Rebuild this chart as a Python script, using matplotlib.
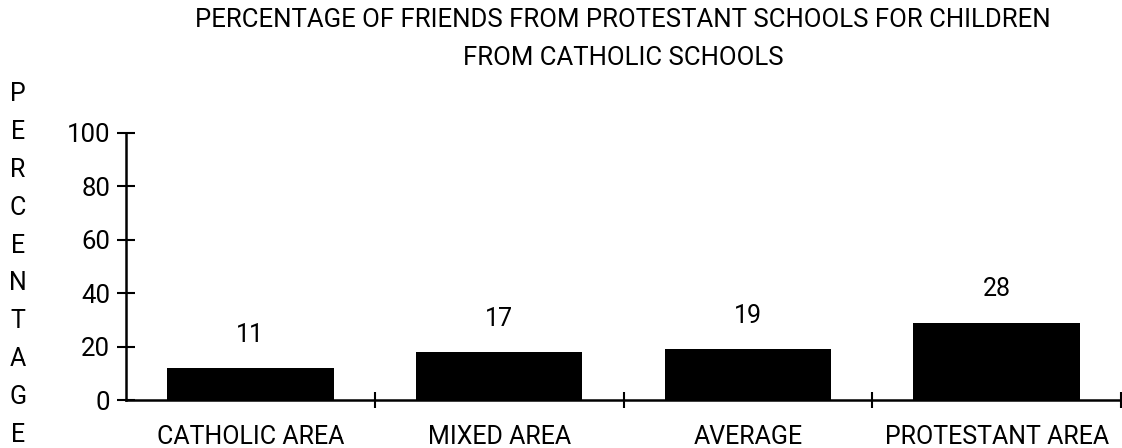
import matplotlib.pyplot as plt

categories = ['CATHOLIC AREA', 'MIXED AREA', 'AVERAGE', 'PROTESTANT AREA']
bar_heights = [12, 18, 19, 29]
bar_labels = ['11', '17', '19', '28']
y_ticks = [0, 20, 40, 60, 80, 100]
title = 'PERCENTAGE OF FRIENDS FROM PROTESTANT SCHOOLS FOR CHILDREN\nFROM CATHOLIC SCHOOLS'
ylabel = 'PERCENTAGE'


def main():
    plt.rcParams['font.family'] = ['Roboto', 'DejaVu Sans']
    W, H = 1122, 448
    fig = plt.figure(figsize=(W / 100, H / 100), dpi=100)
    ax = fig.add_axes([126 / W, 48 / H, 995 / W, 267 / H])

    x = range(len(categories))
    ax.bar(x, bar_heights, width=0.67, color='black', zorder=3)
    for xi, h, lab in zip(x, bar_heights, bar_labels):
        ax.annotate(lab, (xi, h), xytext=(0, 24), textcoords='offset points',
                    ha='center', va='center', fontsize=18)

    ax.set_xlim(-0.5, len(categories) - 0.5)
    ax.set_ylim(0, 100)
    for s in ('top', 'right'):
        ax.spines[s].set_visible(False)
    for s in ('left', 'bottom'):
        ax.spines[s].set_linewidth(1.8)

    ax.set_yticks(y_ticks)
    ax.tick_params(axis='y', direction='inout', length=13, width=1.5,
                   labelsize=18.5, pad=5)
    ax.set_xticks([i + 0.5 for i in x])
    ax.set_xticklabels([])
    ax.tick_params(axis='x', which='major', direction='inout', length=11, width=1.5)
    ax.set_xticks(list(x), minor=True)
    ax.set_xticklabels(categories, minor=True)
    ax.tick_params(axis='x', which='minor', length=0, labelsize=18, pad=18)

    fig.text(623 / W, 1 - 8 / H, title, ha='center', va='top',
             fontsize=18.5, linespacing=1.75)

    # vertical axis title, one letter per line
    for i, ch in enumerate(ylabel):
        fig.text(18 / W, 1 - (94 + i * 37.9) / H, ch, ha='center', va='center',
                 fontsize=18)

    fig.savefig('out.png', dpi=100)


if __name__ == '__main__':
    main()
